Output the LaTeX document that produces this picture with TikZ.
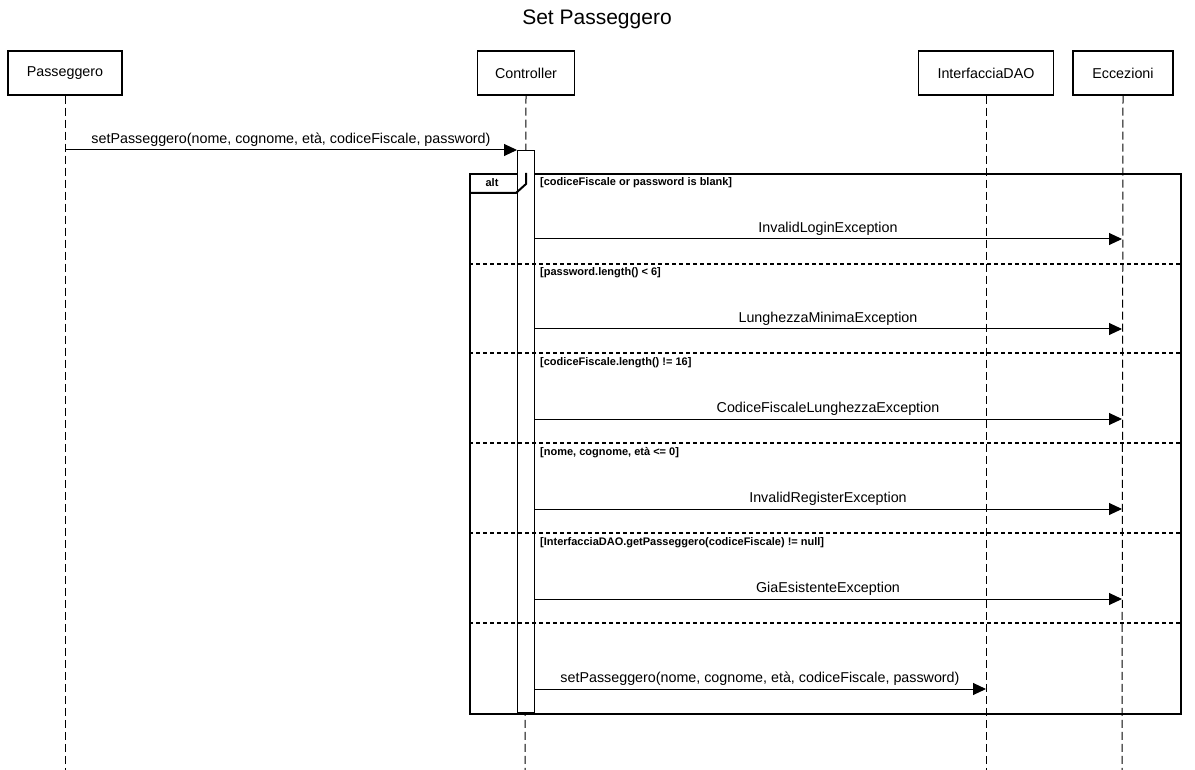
\documentclass[tikz,border=0pt]{standalone}
\usepackage{fontspec}
\setmainfont{Liberation Sans}
\usetikzlibrary{arrows.meta,calc}
\begin{document}
\begin{tikzpicture}[x=1pt,y=-1pt,
 actor/.style={draw,line width=1.5pt,minimum width=#1,minimum height=44pt,inner sep=0pt,font=\fontsize{14.3}{16}\selectfont},
 life/.style={line width=1pt,dash pattern=on 8pt off 4pt},
 msg/.style={line width=1pt,-{Triangle[length=13pt,width=12pt]}},
 mlabel/.style={font=\fontsize{14.3}{16}\selectfont,above,inner sep=3pt},
 guard/.style={font=\bfseries\fontsize{11}{13}\selectfont,anchor=west,inner sep=0pt},
 sep/.style={line width=1.7pt,dash pattern=on 4pt off 3pt}]
\useasboundingbox (0,0) rectangle (1195,770);
\node (title) at (597,19) {\fontsize{21}{24}\selectfont Set Passeggero};
\node[actor=114pt] (pas) at (65,73) {Passeggero};
\node[actor=97pt] (ctl) at (526,73) {Controller};
\node[actor=135pt] (dao) at (986,73) {InterfacciaDAO};
\node[actor=100pt] (ecc) at (1123,73) {Eccezioni};
\coordinate (pasE) at (65,770);
\coordinate (ctlE) at (525,770);
\coordinate (daoE) at (986,770);
\coordinate (eccE) at (1122,770);
\draw[life] (pas.south) -- (pasE);
\draw[life] (ctl.south) -- (ctlE);
\draw[life] (dao.south) -- (daoE);
\draw[life] (ecc.south) -- (eccE);
% frame
\node[draw,line width=2pt,minimum width=711pt,minimum height=540pt,anchor=north west,inner sep=0pt] (frame) at (469,173) {};
\node[draw,line width=1pt,fill=white,minimum width=17pt,minimum height=562pt,inner sep=0pt,anchor=north] (act) at (525.5,150) {};
\draw[line width=2pt] (frame.north west) ++(0,20) -- ++(47,0) -- ++(10,-9) -- ++(0,-11);
\node[font=\bfseries\fontsize{11}{13}\selectfont] (alt) at (492,183) {alt};
% separators
\foreach \y in {264,353,443,533,623}{
  \draw[sep] (469,\y) -- (1180,\y);
}
\node[guard] (g1) at (540,183) {[codiceFiscale or password is blank]};
\node[guard] (g2) at (540,273) {[password.length() < 6]};
\node[guard] (g3) at (540,363) {[codiceFiscale.length() != 16]};
\node[guard] (g4) at (540,453) {[nome, cognome, età <= 0]};
\node[guard] (g5) at (540,543) {[InterfacciaDAO.getPasseggero(codiceFiscale) != null]};
% messages
\coordinate (m0s) at (65,150);
\coordinate (m0e) at (517,150);
\draw[msg] (m0s) -- node[mlabel] (l0) {setPasseggero(nome, cognome, età, codiceFiscale, password)} (m0e);
\foreach \y/\t/\n in {239/InvalidLoginException/1,329/LunghezzaMinimaException/2,419/CodiceFiscaleLunghezzaException/3,509/InvalidRegisterException/4,599/GiaEsistenteException/5}{
  \coordinate (e\n s) at (534,\y);
  \coordinate (e\n e) at (1122,\y);
  \draw[msg] (e\n s) -- node[mlabel] (el\n) {\t} (e\n e);
}
\coordinate (m6s) at (534,689);
\coordinate (m6e) at (986,689);
\draw[msg] (m6s) -- node[mlabel] (l6) {setPasseggero(nome, cognome, età, codiceFiscale, password)} (m6e);
\end{tikzpicture}
\end{document}
